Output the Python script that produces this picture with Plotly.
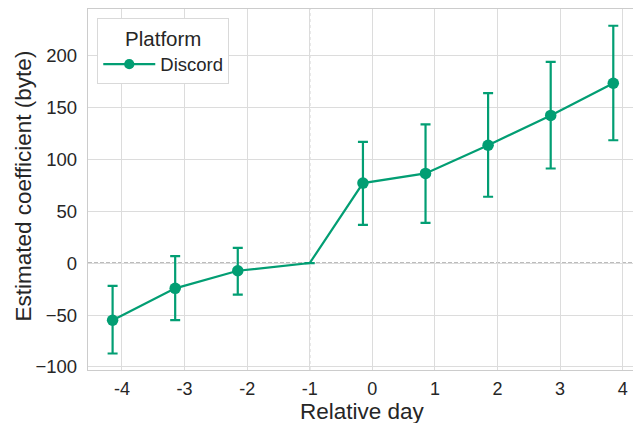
import plotly.graph_objects as go

# ---- data ----
days = [-4, -3, -2, -1, 0, 1, 2, 3, 4]
tick_labels = ["-4", "-3", "-2", "-1", "0", "1", "2", "3", "4"]
coef = [-55.0, -24.3, -7.4, 0.0, 77.0, 86.3, 113.4, 142.1, 173.1]
ci_low = [-87.0, -55.0, -30.4, None, 36.7, 38.6, 63.8, 91.0, 118.2]
ci_high = [-22.0, 6.7, 14.7, None, 116.6, 133.5, 163.5, 193.6, 228.4]
y_ticks = [-100, -50, 0, 50, 100, 150, 200]
reference_day = -1
series_name = "Discord"
legend_title = "Platform"
x_title = "Relative day"
y_title = "Estimated coefficient (byte)"

# ---- styling ----
COLOR = "#029e73"
DODGE = -0.15
FONT = "Liberation Sans, Arial, sans-serif"
TEXT = "#262626"
GRID = "#dcdcdc"

x_plot = [d if d == reference_day else d + DODGE for d in days]
err_plus = [None if h is None else h - c for h, c in zip(ci_high, coef)]
err_minus = [None if l is None else c - l for l, c in zip(ci_low, coef)]
msize = [0 if d == reference_day else 11.5 for d in days]

fig = go.Figure()
fig.add_trace(go.Scatter(
    x=x_plot, y=coef, mode="lines+markers", name=series_name,
    line=dict(color=COLOR, width=2.2),
    marker=dict(color=COLOR, size=msize, opacity=1, line=dict(width=0)),
    error_y=dict(type="data", symmetric=False, array=err_plus, arrayminus=err_minus,
                 color=COLOR, thickness=2.2, width=5),
))

fig.add_hline(y=0, line=dict(color="#7a7a7a", width=1.2, dash="4px,2px"), layer="below")
fig.add_vline(x=reference_day, line=dict(color="#a0a0a0", width=1, dash="dot"), layer="below")

fig.add_annotation(text=y_title, xref="paper", yref="paper", x=-0.118, y=0.51,
                   xanchor="center", yanchor="middle", textangle=-90, showarrow=False,
                   font=dict(size=22.5, color=TEXT))
fig.add_annotation(text=x_title, xref="paper", yref="paper", x=0.503, y=-0.116,
                   xanchor="center", yanchor="middle", showarrow=False,
                   font=dict(size=22.5, color=TEXT))

fig.update_layout(
    width=633, height=423,
    margin=dict(l=88, r=0, t=9, b=53),
    paper_bgcolor="white", plot_bgcolor="white",
    font=dict(family=FONT, color=TEXT, size=18),
    showlegend=True,
    legend=dict(
        x=0.017, y=0.975, xanchor="left", yanchor="top",
        bgcolor="white", bordercolor="#d9d9d9", borderwidth=1,
        font=dict(size=18.5, color=TEXT),
        title=dict(text=legend_title, side="top center", font=dict(size=20.5, color=TEXT)),
        itemwidth=52,
    ),
    xaxis=dict(
        range=[-4.543, 4.165], tickmode="array", tickvals=days, ticktext=tick_labels,
        showgrid=True, gridcolor=GRID, gridwidth=1, zeroline=False,
        showline=True, linecolor="#cccccc", linewidth=1.3, mirror=True,
        ticks="outside", ticklen=2, tickcolor="rgba(0,0,0,0)",
        tickfont=dict(size=18, color=TEXT),
    ),
    yaxis=dict(
        range=[-102.9, 244.5], tickmode="array", tickvals=y_ticks,
        showgrid=True, gridcolor=GRID, gridwidth=1, zeroline=False,
        showline=True, linecolor="#cccccc", linewidth=1.3, mirror=True,
        ticks="outside", ticklen=6, tickcolor="rgba(0,0,0,0)",
        tickfont=dict(size=18.5, color=TEXT),
    ),
)

fig.write_html("out.html", config={"displayModeBar": False},
               post_script="document.body.style.margin='0';document.body.style.padding='0';")
